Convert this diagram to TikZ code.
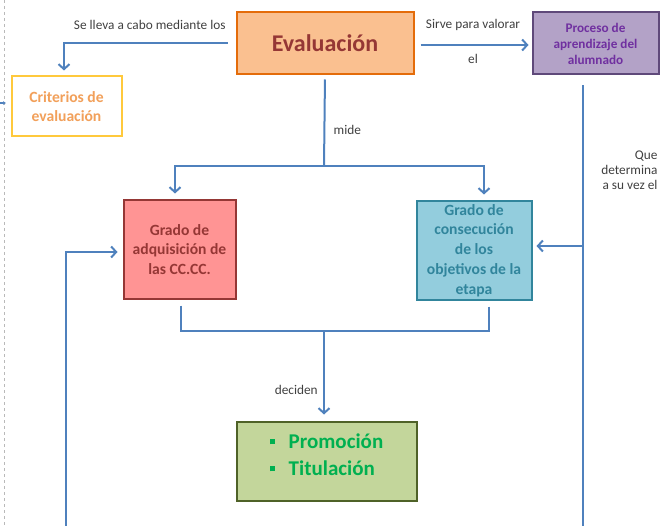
\documentclass[tikz,border=0pt]{standalone}
\usepackage{fontspec}
\setmainfont{Carlito}
\usetikzlibrary{arrows.meta}
\definecolor{linea}{HTML}{4F81BD}
\definecolor{etiq}{HTML}{404040}
\definecolor{evalfill}{HTML}{FAC090}
\definecolor{evaldraw}{HTML}{E46C0A}
\definecolor{rojo}{HTML}{953735}
\definecolor{critdraw}{HTML}{FFC93C}
\definecolor{crittext}{HTML}{F2A05A}
\definecolor{procfill}{HTML}{B3A2C7}
\definecolor{procdraw}{HTML}{5F497A}
\definecolor{proctext}{HTML}{7030A0}
\definecolor{adqfill}{HTML}{FF9494}
\definecolor{consfill}{HTML}{93CDDD}
\definecolor{consdraw}{HTML}{31859C}
\definecolor{promfill}{HTML}{C3D69B}
\definecolor{promdraw}{HTML}{4F6228}
\definecolor{promtext}{HTML}{00B050}
\newcommand{\cuadro}{\raisebox{4pt}{\rule{5pt}{5pt}}\hspace{14pt}}

\begin{document}
\begin{tikzpicture}[x=1pt,y=-1pt,>={Straight Barb[length=5pt,width=11pt]},
    every node/.style={font=\fontsize{13.3}{15}\selectfont,text=etiq},
    caja/.style={draw,line width=2pt,align=center,inner sep=2pt,
      font=\fontsize{15.6}{19.8}\selectfont\bfseries},
    flecha/.style={draw=linea,line width=2pt}]
    \useasboundingbox (0,0) rectangle (660,526);
    \draw[gray!55,dashed] (4,0) -- (4,526);
    % cajas
    \node[caja,fill=evalfill,draw=evaldraw,text=rojo,minimum width=177pt,minimum height=62pt,
      font=\fontsize{24}{26}\selectfont\bfseries] (eval) at (325,43.5) {Evaluación};
    \node[caja,fill=white,draw=critdraw,text=crittext,minimum width=110pt,minimum height=60pt,
      font=\fontsize{15.6}{19}\selectfont\bfseries] (crit) at (66.5,106.5) {Criterios de\\evaluación};
    \node[caja,fill=procfill,draw=procdraw,text=proctext,minimum width=126pt,minimum height=62pt,
      font=\fontsize{13.2}{16}\selectfont\bfseries] (proc) at (595.5,43.5) {Proceso de\\aprendizaje del\\alumnado};
    \node[caja,fill=adqfill,draw=rojo,text=rojo,minimum width=112pt,minimum height=98pt] (adq) at (179.5,249.5) {Grado de\\adquisición de\\las CC.CC.};
    \node[caja,fill=consfill,draw=consdraw,text=consdraw,minimum width=115pt,minimum height=98pt] (cons) at (474,250.5) {Grado de\\consecución\\de los\\objetivos de la\\etapa};
    \node[caja,fill=promfill,draw=promdraw,text=promtext,minimum width=180pt,minimum height=79pt,align=left,
      text depth=13pt,font=\fontsize{21}{27}\selectfont\bfseries] (prom) at (326.5,461) {\cuadro Promoción\\\cuadro Titulación};
    \node[align=right,anchor=north east] (que) at (661,147) {Que\\determina\\a su vez el};
    % puntos de union
    \coordinate (mide) at (324,166);
    \coordinate (dec) at (324,331);
    \coordinate (rama) at (583,246);
    \coordinate (pie) at (583,526);
    \coordinate (izq) at (66,526);
    \coordinate (bordeA) at (0,103);
    \coordinate (bordeB) at (6,103);
    % conectores
    \draw[flecha,->,shorten <=8pt,shorten >=5pt] (eval.west) -| node[above=10pt,pos=0.25] {Se lleva a cabo mediante los} ([xshift=-2.5pt]crit.north);
    \draw[flecha,->,shorten <=6pt,shorten >=3pt] ([yshift=-1.5pt]eval.east) -- node[above=10pt] {Sirve para valorar} node[below=5pt] {el} ([yshift=-1.5pt]proc.west);
    \draw[flecha,shorten <=4pt] (eval.south) -- node[right=5pt,pos=0.6] {mide} (mide);
    \draw[flecha,->,shorten >=6pt] (mide) -| ([xshift=-4.5pt]adq.north);
    \draw[flecha,->,shorten >=6pt] (mide) -| ([xshift=10pt]cons.north);
    \draw[flecha,shorten <=10pt] ([xshift=-12.5pt]proc.south) -- (pie);
    \draw[flecha,->,shorten >=4pt] (rama) -- (rama -| cons.east);
    \draw[flecha,->,shorten >=5pt] (izq) |- ([yshift=-2.5pt]adq.west);
    \draw[flecha,shorten <=6pt] ([xshift=1.5pt]adq.south) |- (dec);
    \draw[flecha,shorten <=6pt] ([xshift=15pt]cons.south) |- (dec);
    \draw[flecha,->,shorten >=6pt] (dec) -- node[left=2pt,pos=0.66] {deciden} (dec |- prom.north);
    \draw[draw=linea,line width=1.2pt,-{Latex[length=3pt,width=4pt]}] (bordeA) -- (bordeB);
\end{tikzpicture}
\end{document}
